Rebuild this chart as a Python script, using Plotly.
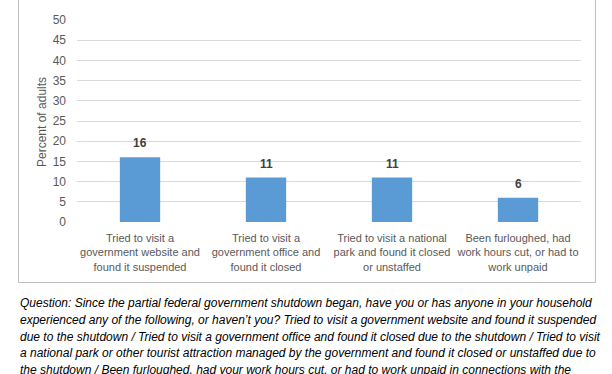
import plotly.graph_objects as go

categories = [
    "Tried to visit a<br>government website and<br>found it suspended",
    "Tried to visit a<br>government office and<br>found it closed",
    "Tried to visit a national<br>park and found it closed<br>or unstaffed",
    "Been furloughed, had<br>work hours cut, or had to<br>work unpaid",
]
values = [16, 11, 11, 6]
y_ticks = [0, 5, 10, 15, 20, 25, 30, 35, 40, 45, 50]
y_title = "Percent of adults"
caption_lines = [
    "Question: Since the partial federal government shutdown began, have you or has anyone in your household",
    "experienced any of the following, or haven\u2019t you? Tried to visit a government website and found it suspended",
    "due to the shutdown / Tried to visit a government office and found it closed due to the shutdown / Tried to visit",
    "a national park or other tourist attraction managed by the government and found it closed or unstaffed due to",
    "the shutdown / Been furloughed, had your work hours cut, or had to work unpaid in connections with the",
]

W, H = 612, 374
L, R, T, B = 77, 581, 20, 222  # plot area in pixels
pw, ph = R - L, B - T

def px(x):
    return (x - L) / pw

def py(y):
    return (B - y) / ph

FONT = "Liberation Sans, Arial, sans-serif"

fig = go.Figure()
fig.add_trace(go.Bar(
    x=list(range(len(categories))), y=values,
    marker=dict(color="#5B9BD5", line=dict(width=0)),
    width=0.32, hoverinfo="skip",
))

annotations = []
for i, v in enumerate(values):
    annotations.append(dict(
        x=i, y=v, xref="x", yref="y", text=f"<b>{v}</b>", showarrow=False,
        yshift=14, font=dict(family=FONT, size=12, color="#404040"),
    ))

annotations.append(dict(
    x=px(42), y=py(122), xref="paper", yref="paper", text=y_title,
    textangle=-90, showarrow=False, xanchor="center", yanchor="middle",
    font=dict(family=FONT, size=12, color="#595959"),
))

cap_y = [303, 320, 337, 353, 370]
for line, yc in zip(caption_lines, cap_y):
    annotations.append(dict(
        x=px(18), y=py(yc), xref="paper", yref="paper", text=f"<i>{line}</i>",
        showarrow=False, xanchor="left", yanchor="middle",
        font=dict(family=FONT, size=12, color="#000000"),
    ))

frame = dict(xref="paper", yref="paper", line=dict(color="#BFBFBF", width=1), layer="above")
x_left, x_right, y_top, y_bottom = px(18.5), px(595.5), py(-3), py(282.5)

fig.update_layout(
    width=W, height=H,
    margin=dict(l=L, r=W - R, t=T, b=H - B, pad=0),
    paper_bgcolor="white", plot_bgcolor="white",
    showlegend=False,
    font=dict(family=FONT, color="#595959"),
    xaxis=dict(
        tickmode="array", tickvals=list(range(len(categories))), ticktext=categories,
        range=[-0.5, len(categories) - 0.5], showgrid=False, zeroline=False,
        showline=False, ticks="", tickfont=dict(family=FONT, size=11, color="#595959"),
        tickangle=0, fixedrange=True, ticklabelstandoff=8,
    ),
    yaxis=dict(
        range=[0, 50], tickvals=y_ticks, showgrid=True, gridcolor="#D9D9D9",
        gridwidth=1, zeroline=False, showline=False, ticks="",
        tickfont=dict(family=FONT, size=12, color="#595959"),
        ticklabelstandoff=10, fixedrange=True,
    ),
    annotations=annotations,
    shapes=[
        dict(type="line", x0=x_left, x1=x_left, y0=y_bottom, y1=y_top, **frame),
        dict(type="line", x0=x_right, x1=x_right, y0=y_bottom, y1=y_top, **frame),
        dict(type="line", x0=x_left, x1=x_right, y0=y_bottom, y1=y_bottom, **frame),
    ],
)

fig.write_html(
    "out.html",
    config={"displayModeBar": False},
    post_script="document.body.style.margin='0px';document.body.style.padding='0px';",
)
